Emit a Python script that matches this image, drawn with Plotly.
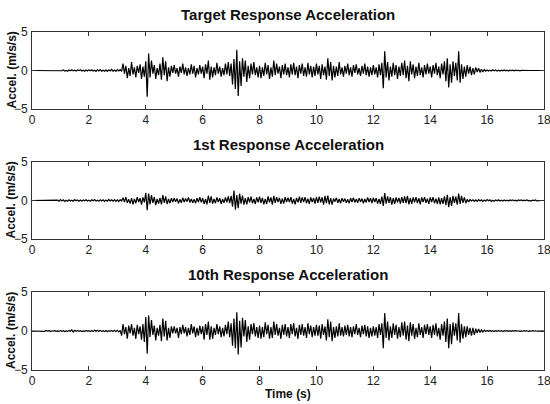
import plotly.graph_objects as go

DT = 0.05  # sampling interval (s)

titles = ["Target Response Acceleration", "1st Response Acceleration", "10th Response Acceleration"]
x_ticks = [0, 2, 4, 6, 8, 10, 12, 14, 16, 18]
y_ticks = [-5, 0, 5]

target_acc = [
    0,0,0,0,0,0,0,0,0,0,0,0,0,0,0,0,0,0,0,0,
    0.05,-0.03,0.08,-0.06,0.02,-0.09,0.06,-0.04,0.1,-0.05,0.03,-0.08,0.07,-0.02,0.09,-0.06,0.04,-0.1,0.05,-0.07,
    0.08,-0.04,0.1,-0.07,0.03,-0.11,0.09,-0.05,0.12,-0.08,0.04,-0.1,0.07,-0.12,0.1,-0.06,0.13,-0.09,0.05,-0.12,
    0.11,-0.07,0.1,-0.12,0.9,-0.4,0.6,-1.0,0.3,-0.7,1.1,-0.5,0.4,-0.9,0.6,-0.3,0.8,-1.1,0.5,-0.8,
    1.2,-3.4,2.2,-0.9,1.3,-0.4,0.7,-1.1,0.3,-0.6,0.9,-1.2,1.7,-0.6,1.2,-1.4,0.4,-0.8,0.6,-0.3,
    0.7,-0.4,0.3,-0.8,0.5,-0.3,0.9,-0.5,0.4,-0.7,0.3,-0.5,0.8,-0.4,0.6,-0.9,0.3,-0.5,0.7,-0.4,
    0.5,-1.0,0.8,-0.4,1.3,-1.2,0.5,-0.9,0.4,-0.6,1.0,-0.4,0.5,-0.8,0.3,-0.6,0.9,-0.5,1.1,-0.7,
    0.9,-1.8,1.5,-2.4,2.7,-3.3,1.2,-2.0,1.6,-0.8,1.3,-1.5,0.6,-1.0,0.9,-0.5,1.1,-0.6,0.4,-0.9,
    0.6,-1.0,0.4,-0.7,1.0,-0.5,0.7,-1.1,0.4,-0.8,1.3,-0.6,0.9,-0.4,0.5,-1.0,0.7,-0.5,0.9,-0.6,
    0.4,-0.9,0.8,-0.5,1.0,-0.6,0.5,-1.0,0.7,-0.4,0.9,-0.7,0.4,-0.8,1.0,-0.5,0.6,-0.9,0.5,-0.7,
    0.9,-0.5,0.6,-1.1,0.8,-0.6,0.5,-1.2,1.6,-0.7,1.1,-1.3,0.6,-0.9,0.5,-0.7,1.1,-0.5,0.4,-0.8,
    0.6,-0.4,0.9,-0.6,0.4,-0.8,0.7,-0.3,0.8,-0.5,0.3,-0.7,0.6,-0.4,0.9,-0.6,0.5,-0.8,0.4,-0.6,
    0.7,-0.5,0.4,-0.9,0.8,-0.6,1.0,-2.3,2.5,-0.9,1.1,-1.3,0.5,-0.8,1.0,-0.6,0.7,-1.1,0.5,-0.7,
    1.0,-0.6,1.3,-1.0,0.6,-1.4,1.2,-0.5,0.8,-1.0,0.5,-0.7,1.0,-0.6,0.4,-0.9,0.7,-0.5,0.9,-0.4,
    0.5,-0.9,0.7,-0.4,1.0,-0.6,0.5,-1.0,0.9,-0.5,1.2,-1.4,1.6,-2.2,0.8,-1.6,1.2,-0.7,1.0,-1.3,
    2.5,-1.6,0.8,-1.1,0.5,-0.8,0.7,-0.4,0.5,-0.6,0.3,-0.5,0.4,-0.2,0.3,-0.25,0.15,-0.2,0.12,-0.08,
    0.05,-0.08,0.03,-0.06,0.09,-0.04,0.06,-0.08,0.03,-0.07,0.05,-0.04,0.08,-0.03,0.05,-0.06,0.04,-0.02,0.05,-0.03,
    0.04,-0.02,0.03,-0.04,0.02,0,0,0,0,0,0,0,0,0,0,0,0,0,0,0,
    0,
]

first_acc = [
    0,0,0,0,0,0,0,0,0,0,0,0,0,0,0,0,0,0,0.06,-0.1,
    0.12,-0.05,0.08,-0.11,0.04,-0.09,0.1,-0.06,0.03,-0.08,0.11,-0.04,0.07,-0.1,0.05,-0.09,0.08,-0.03,0.1,-0.06,
    0.05,-0.1,0.08,-0.04,0.11,-0.07,0.03,-0.09,0.1,-0.05,0.08,-0.12,0.06,-0.09,0.13,-0.05,0.1,-0.08,0.12,-0.1,
    0.08,-0.13,0.1,-0.06,0.35,-0.2,0.45,-0.3,0.15,-0.4,0.3,-0.5,0.2,-0.35,0.45,-0.2,0.3,-0.55,0.4,-0.25,
    1.0,-1.25,0.9,-0.5,0.7,-0.3,0.45,-0.6,0.2,-0.4,0.35,-0.5,0.7,-0.3,0.55,-0.45,0.2,-0.35,0.3,-0.2,
    0.3,-0.15,0.25,-0.35,0.15,-0.3,0.35,-0.2,0.25,-0.15,0.4,-0.25,0.2,-0.3,0.15,-0.35,0.3,-0.2,0.45,-0.25,
    0.3,-0.45,0.2,-0.5,0.65,-0.3,0.55,-0.4,0.2,-0.35,0.4,-0.2,0.3,-0.45,0.2,-0.3,0.4,-0.25,0.55,-0.35,
    0.6,-0.8,1.3,-1.2,0.7,-1.0,0.9,-0.4,0.65,-0.55,0.3,-0.5,0.45,-0.25,0.5,-0.35,0.2,-0.45,0.4,-0.25,
    0.5,-0.3,0.35,-0.5,0.2,-0.45,0.55,-0.25,0.4,-0.55,0.6,-0.3,0.45,-0.2,0.35,-0.45,0.25,-0.4,0.45,-0.2,
    0.35,-0.2,0.45,-0.4,0.2,-0.5,0.35,-0.25,0.5,-0.3,0.4,-0.2,0.45,-0.35,0.25,-0.45,0.4,-0.2,0.3,-0.4,
    0.45,-0.3,0.5,-0.25,0.4,-0.55,0.6,-0.35,0.65,-0.5,0.3,-0.55,0.25,-0.15,0.35,-0.3,0.2,-0.35,0.3,-0.15,
    0.25,-0.3,0.15,-0.35,0.3,-0.2,0.35,-0.25,0.2,-0.3,0.3,-0.15,0.25,-0.35,0.2,-0.25,0.4,-0.2,0.3,-0.35,
    0.35,-0.2,0.3,-0.4,0.2,-0.45,0.5,-0.7,0.95,-0.4,0.55,-0.3,0.45,-0.55,0.3,-0.45,0.4,-0.25,0.35,-0.4,
    0.45,-0.3,0.55,-0.35,0.6,-0.5,0.3,-0.45,0.4,-0.25,0.45,-0.35,0.3,-0.5,0.4,-0.2,0.45,-0.3,0.25,-0.45,
    0.4,-0.2,0.45,-0.35,0.25,-0.45,0.4,-0.5,0.3,-0.45,0.55,-0.6,0.75,-0.85,0.45,-0.7,0.6,-0.3,0.5,-0.55,
    0.9,-0.45,0.6,-0.3,0.4,-0.35,0.15,-0.2,0.12,-0.06,0.1,-0.12,0.07,-0.1,0.12,-0.05,0.09,-0.11,0.05,-0.09,
    0.12,-0.04,0.08,-0.11,0.03,-0.09,0.07,-0.04,0.1,-0.06,0.03,-0.08,0.07,-0.03,0.05,-0.07,0.06,-0.02,0.08,-0.05,
    0.03,-0.07,0.06,-0.02,0.07,-0.04,0.05,-0.02,0.06,-0.05,0.02,-0.06,0.05,-0.02,0.06,-0.04,0,0,0,0,
    0,
]

tenth_acc = [
    0,0,0,0,0,0,0.03,-0.05,0.02,-0.04,0.06,-0.02,0.04,-0.06,0.03,-0.02,0.05,-0.04,0.02,-0.05,
    0.06,-0.03,0.04,-0.07,0.02,-0.05,0.06,-0.03,0.14,-0.12,0.09,-0.04,0.06,-0.03,0.05,-0.07,0.02,-0.05,0.07,-0.03,
    0.04,-0.07,0.03,-0.05,0.09,-0.04,0.06,-0.03,0.08,-0.05,0.04,-0.08,0.06,-0.09,0.05,-0.03,0.08,-0.06,0.1,-0.05,
    0.09,-0.12,0.07,-0.6,0.9,-0.4,0.5,-1.0,0.7,-0.3,0.9,-0.6,0.4,-1.0,0.8,-0.4,0.6,-1.1,0.9,-1.4,
    1.8,-2.9,2.0,-0.8,1.4,-0.5,0.7,-1.2,0.4,-0.6,0.8,-1.3,1.6,-0.7,1.3,-1.2,0.4,-0.9,0.6,-0.3,
    0.6,-0.3,0.4,-0.9,0.5,-0.4,0.8,-0.3,0.5,-0.7,0.4,-0.5,0.9,-0.3,0.6,-0.8,0.4,-0.6,0.7,-0.4,
    0.6,-1.1,0.9,-0.5,1.2,-1.1,0.6,-1.0,0.4,-0.5,0.9,-0.4,0.6,-0.8,0.4,-0.7,0.8,-0.4,1.2,-0.8,
    1.0,-1.9,1.6,-2.2,2.4,-3.0,1.3,-2.1,1.7,-0.7,1.4,-1.4,0.6,-1.1,0.9,-0.4,1.0,-0.7,0.5,-0.9,
    0.7,-1.0,0.5,-0.8,1.1,-0.4,0.8,-1.0,0.5,-0.9,1.2,-0.5,0.9,-0.6,0.4,-1.0,0.8,-0.5,0.9,-0.7,
    0.5,-0.9,0.9,-0.4,1.0,-0.7,0.4,-1.0,0.8,-0.5,0.9,-0.6,0.5,-0.9,1.0,-0.4,0.7,-0.8,0.5,-0.6,
    0.8,-0.6,0.7,-1.0,0.9,-0.5,0.6,-1.2,1.5,-0.8,1.2,-1.3,0.5,-0.9,0.6,-0.7,1.0,-0.6,0.5,-0.7,
    0.7,-0.5,0.8,-0.7,0.5,-0.8,0.6,-0.4,0.9,-0.5,0.4,-0.8,0.7,-0.4,0.8,-0.7,0.6,-0.9,0.4,-0.7,
    0.6,-0.6,0.5,-0.9,0.9,-0.5,1.0,-2.2,2.3,-0.9,1.2,-1.2,0.6,-0.9,1.0,-0.5,0.8,-1.0,0.5,-0.8,
    1.1,-0.6,1.2,-1.1,0.7,-1.3,1.1,-0.6,0.9,-1.0,0.4,-0.8,1.0,-0.5,0.5,-0.9,0.8,-0.4,0.9,-0.5,
    0.6,-0.9,0.8,-0.5,1.0,-0.7,0.4,-1.1,0.9,-0.6,1.2,-1.4,1.6,-2.2,0.9,-1.7,1.1,-0.6,1.0,-1.2,
    2.3,-1.5,0.9,-1.0,0.6,-0.8,0.6,-0.5,0.4,-0.6,0.4,-0.5,0.3,-0.25,0.25,-0.2,0.15,-0.12,0.1,-0.07,
    0.07,-0.04,0.08,-0.06,0.03,-0.07,0.05,-0.03,0.07,-0.05,0.03,-0.06,0.04,-0.02,0.05,-0.04,0.03,-0.05,0.04,-0.02,
    0.04,-0.02,0.03,-0.05,0.02,-0.03,0.04,-0.02,0.03,-0.04,0.02,-0.03,0.04,-0.02,0.03,-0.03,0.02,-0.03,0.03,-0.02,
    0,
]

series = [target_acc, first_acc, tenth_acc]

W, H = 550, 404
ML, MR, MT, MB = 32, 6, 32, 34
# panel pixel extents (top, bottom) measured from the top of the window
panels_px = [(32, 109), (162, 239), (292, 370)]
plot_h = H - MT - MB

fig = go.Figure()
FONT = "Liberation Sans, Arial, sans-serif"

for i, vals in enumerate(series):
    t = [round(k * DT, 3) for k in range(len(vals))]
    n = "" if i == 0 else str(i + 1)
    fig.add_trace(go.Scatter(
        x=t, y=vals, mode="lines",
        line=dict(color="black", width=1.2),
        xaxis="x" + n, yaxis="y" + n, showlegend=False, hoverinfo="skip",
    ))
    top, bot = panels_px[i]
    d0 = max(0, 1 - (bot - MT) / plot_h)
    d1 = min(1, 1 - (top - MT) / plot_h)
    axcommon = dict(showline=True, linecolor="#333", linewidth=1, mirror="ticks",
                    ticks="inside", ticklen=4, tickcolor="#333", showgrid=False,
                    zeroline=False, automargin=False, ticklabeloverflow="allow",
                    tickfont=dict(family=FONT, size=12, color="#222"))
    fig.update_layout(**{
        "xaxis" + n: dict(range=[0, 18], tickvals=x_ticks, domain=[0, 1],
                          anchor="y" + n, **axcommon),
        "yaxis" + n: dict(range=[-5, 5], tickvals=y_ticks, domain=[d0, d1],
                          anchor="x" + n, ticklabelstandoff=1, **axcommon),
    })
    fig.add_annotation(text="<b>" + titles[i] + "</b>", xref="paper", yref="paper",
                       x=0.5, y=d1, yanchor="bottom", yshift=7, showarrow=False,
                       font=dict(family=FONT, size=15, color="#111"))
    fig.add_annotation(text="<b>Accel. (m/s/s)</b>", xref="paper", yref="paper",
                       x=0, xshift=-21, y=(d0 + d1) / 2, textangle=-90,
                       xanchor="center", yanchor="middle",
                       showarrow=False, font=dict(family=FONT, size=12, color="#111"))

fig.add_annotation(text="<b>Time (s)</b>", xref="paper", yref="paper", x=0.5, y=0,
                   yanchor="top", yshift=-15, showarrow=False,
                   font=dict(family=FONT, size=12, color="#111"))

fig.update_layout(width=W, height=H, margin=dict(l=ML, r=MR, t=MT, b=MB, autoexpand=False),
                  paper_bgcolor="white", plot_bgcolor="white")

fig.write_html("out.html", config={"displayModeBar": False},
               post_script="document.body.style.margin='0px';")
